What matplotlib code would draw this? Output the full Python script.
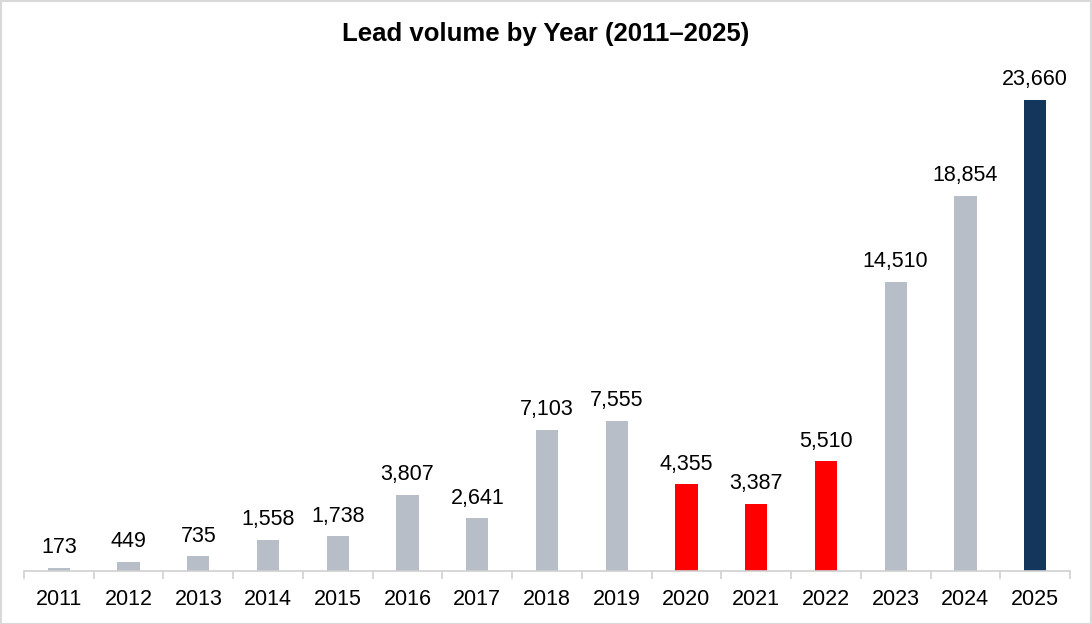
import matplotlib
matplotlib.use("Agg")
import matplotlib.pyplot as plt
from matplotlib.patches import Rectangle

years = ["2011", "2012", "2013", "2014", "2015", "2016", "2017", "2018",
         "2019", "2020", "2021", "2022", "2023", "2024", "2025"]
values = [173, 449, 735, 1558, 1738, 3807, 2641, 7103, 7555, 4355, 3387, 5510,
          14510, 18854, 23660]
grey, red, navy = "#B8BEC7", "#FF0000", "#14365C"
colors = [grey] * 9 + [red] * 3 + [grey] * 2 + [navy]

plt.rcParams['font.family'] = ['Liberation Sans', 'DejaVu Sans']

fig = plt.figure(figsize=(10.92, 6.24), dpi=100)
ax = fig.add_axes([24/1092, 53/624, 1046/1092, 511/624])
x = list(range(len(years)))
ax.bar(x, values, width=0.32, color=colors, zorder=2)
for xi, v in zip(x, values):
    ax.annotate(f"{v:,}", (xi, v), xytext=(0, 7), textcoords="offset points",
                ha="center", va="bottom", fontsize=15.5, color="black")
ax.set_xlim(-0.5, len(years) - 0.5)
ax.set_ylim(0, 23660 * 511 / 471)
ax.set_yticks([])
for s in ["top", "right", "left"]:
    ax.spines[s].set_visible(False)
ax.spines["bottom"].set_color("#D0D0D0")
ax.spines["bottom"].set_linewidth(1.2)
ax.set_xticks([i - 0.5 for i in range(len(years) + 1)], minor=False)
ax.set_xticklabels([])
ax.tick_params(axis="x", which="major", length=6, color="#D0D0D0", width=1.2)
ax.set_xticks(x, minor=True)
ax.set_xticklabels(years, minor=True, fontsize=15.5)
ax.tick_params(axis="x", which="minor", length=0, pad=13)
fig.text(0.5, 1 - 34/624, "Lead volume by Year (2011\u20132025)", ha="center",
         va="center", fontsize=18.5, fontweight="bold")
fig.patches.append(Rectangle((0.5/1092, 0.5/624), 1 - 1.5/1092, 1 - 1.5/624,
                             transform=fig.transFigure, fill=False,
                             edgecolor="#D9D9D9", linewidth=1.5))
fig.savefig("out.png", dpi=100)
